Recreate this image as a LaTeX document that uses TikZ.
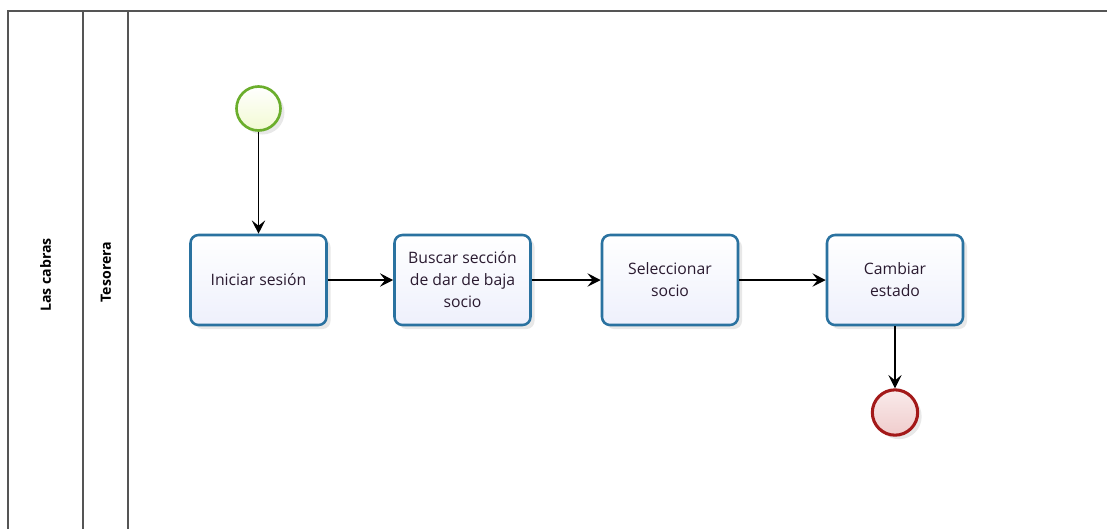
\documentclass[tikz,border=0pt]{standalone}
\usepackage{fontspec}
\setmainfont{Open Sans}
\usetikzlibrary{arrows.meta,shadows}
\definecolor{taskborder}{HTML}{2A72A0}
\definecolor{taskfill}{HTML}{EEF0FC}
\definecolor{startborder}{HTML}{6BAE2C}
\definecolor{startfill}{HTML}{F2FAD2}
\definecolor{endborder}{HTML}{A31919}
\definecolor{endfill}{HTML}{F0CCCC}
\definecolor{laneline}{HTML}{555555}
\definecolor{txt}{HTML}{2A1A30}
\tikzset{
  task/.style={draw=taskborder, line width=1.9pt, rounded corners=6pt,
    top color=white, bottom color=taskfill,
    minimum width=102pt, minimum height=67.5pt, align=center,
    text=txt, font=\fontsize{11.8}{16.5}\selectfont,
    drop shadow={opacity=0.18, shadow xshift=3pt, shadow yshift=-3pt}},
  startev/.style={circle, draw=startborder, line width=2pt,
    top color=white, bottom color=startfill, minimum size=33pt, inner sep=0pt,
    drop shadow={opacity=0.18, shadow xshift=3pt, shadow yshift=-3pt}},
  endev/.style={circle, draw=endborder, line width=2.3pt,
    top color=white!60!endfill, bottom color=endfill, minimum size=34pt, inner sep=0pt,
    drop shadow={opacity=0.18, shadow xshift=3pt, shadow yshift=-3pt}},
  flow/.style={draw=black, line width=1.05pt,
    -{Stealth[length=10pt, width=10pt, inset=4pt]}},
  lanelabel/.style={rotate=90, font=\bfseries\fontsize{10.6}{13}\selectfont, text=black},
  lane/.style={draw=laneline, line width=0.8pt}
}
\begin{document}
\begin{tikzpicture}[x=0.75pt, y=-0.75pt]
  \useasboundingbox (0,0) rectangle (1107,529);
  \fill[white] (0,0) rectangle (1107,529);

  % pool and lane frame
  \draw[lane] (1107,11) -- (8,11) -- (8,529);
  \draw[lane] (83,11) -- (83,529);
  \draw[lane] (128,11) -- (128,529);
  \node[lanelabel] (pool) at (45.5,275) {Las cabras};
  \node[lanelabel] (lanetes) at (106,272) {Tesorera};

  % events and tasks
  \node[startev] (start) at (258.5,108.5) {};
  \node[task] (t1) at (258.5,280) {Iniciar sesión};
  \node[task] (t2) at (462.5,280) {Buscar sección\\de dar de baja\\socio};
  \node[task] (t3) at (670,280) {Seleccionar\\socio};
  \node[task] (t4) at (895,280) {Cambiar\\estado};
  \node[endev] (end) at (895,412.5) {};

  % sequence flows
  \draw[flow] (start) -- (t1);
  \draw[flow] (t1) -- (t2);
  \draw[flow] (t2) -- (t3);
  \draw[flow] (t3) -- (t4);
  \draw[flow] (t4) -- (end);
\end{tikzpicture}
\end{document}
